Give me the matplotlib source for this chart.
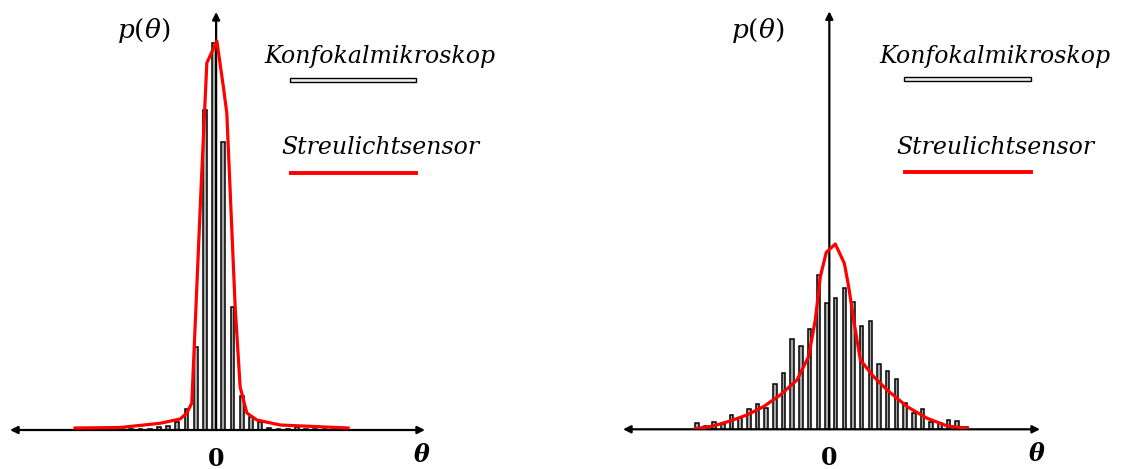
import numpy as np
import matplotlib.pyplot as plt
from matplotlib.patches import Rectangle
from matplotlib.lines import Line2D

plt.rcParams["mathtext.fontset"] = "dejavuserif"

# histogram bins (bin index relative to theta = 0) and counts
left_bins = np.arange(-13, 14) - 0.22
left_counts = [1, 1, 1, 1, 1, 1.5, 1.5, 3, 4, 8, 21, 83, 320, 387, 288,
               123, 34, 13, 8, 2, 1.5, 1.5, 3, 1.5, 1.5, 1.5, 1]
right_bins = np.arange(-15, 17) - 0.27
right_counts = [6, 3.7, 7.6, 5.3, 14.3, 11, 20, 25, 21.6, 45, 56.6, 90.3,
                83, 100, 154.3, 126, 131.6, 141.6, 127.6, 103.6, 108.6, 65,
                58.3, 50.6, 26, 16.6, 20, 7.6, 6, 9.3, 8.6, 2.6]

# scattered-light sensor curves
left_sensor_theta = [-15.33, -10.43, -6.09, -3.91, -3.18, -2.64, -1.63, -1.01,
                     0.08, 0.79, 1.16, 2.07, 2.61, 3.34, 4.42, 6.96, 14.35]
left_sensor_p = [2, 2.5, 6.7, 11, 17, 27, 243, 367, 389, 343, 317, 123, 43,
                 17, 10, 5, 2]
right_sensor_theta = [-15.49, -13.38, -11.45, -9.51, -7.60, -5.66, -3.73,
                      -2.39, -1.62, -1.04, -0.35, 0.69, 1.73, 2.23, 2.81,
                      3.58, 5.12, 6.67, 8.98, 11.29, 13.61, 15.92]
right_sensor_p = [0.5, 3.3, 8.3, 14.3, 22.6, 34.3, 49.3, 72.6, 109.3, 152.6,
                  177, 185.3, 166, 142.6, 109.3, 69.3, 52.6, 39.3, 22.6, 11,
                  3.3, 1]

W, H = 1125, 469
fig = plt.figure(figsize=(W / 100, H / 100), dpi=100)

panels = [
    ((10, 430, 415), (-22.4, 22.7), left_bins, left_counts,
     left_sensor_theta, left_sensor_p),
    ((623, 429.3, 417), (-23.8, 24.3), right_bins, right_counts,
     right_sensor_theta, right_sensor_p),
]

TEXT_FONT = dict(family="DejaVu Serif", style="italic", fontsize=17)

for (px, py, pw), xlim, bins, counts, s_theta, s_p in panels:
    ax = fig.add_axes([px / W, (H - py) / H, pw / W, 418 / H])
    ax.set_xlim(*xlim)
    ax.set_ylim(0, 418)
    for sp in ax.spines.values():
        sp.set_visible(False)
    ax.set_yticks([])
    ax.set_xticks([0], ["0"])
    ax.tick_params(axis="x", length=0, pad=12)
    for t in ax.get_xticklabels():
        t.set_fontfamily("DejaVu Serif")
        t.set_fontweight("bold")
        t.set_fontsize(17)

    ax.bar(bins, counts, width=0.42, color="#a9a9a9", edgecolor="black",
           linewidth=1.1, zorder=2)
    ax.plot(s_theta, s_p, color="#ff0000", linewidth=2.3, zorder=4,
            solid_joinstyle="round")

    # coordinate axes as arrows
    ax.annotate("", xy=(xlim[1], 0), xytext=(xlim[0], 0),
                arrowprops=dict(arrowstyle="<|-|>", color="black", lw=1.6,
                                mutation_scale=11, shrinkA=0, shrinkB=0),
                annotation_clip=False, zorder=3)
    ax.annotate("", xy=(0, 418), xytext=(0, 0),
                arrowprops=dict(arrowstyle="-|>", color="black", lw=1.6,
                                mutation_scale=11, shrinkA=0, shrinkB=0),
                annotation_clip=False, zorder=3)

    ax.text(0.322, 0.955, r"$p(\theta)$", transform=ax.transAxes,
            fontsize=19, ha="center", va="center")
    ax.text(0.993, -0.06, "θ", transform=ax.transAxes, ha="center",
            va="center", family="DejaVu Serif", style="italic",
            weight="bold", fontsize=17)

    # legend entries
    ax.text(0.892, 0.893, "Konfokalmikroskop", transform=ax.transAxes,
            ha="center", va="center", clip_on=False, **TEXT_FONT)
    ax.add_patch(Rectangle((0.675, 0.833), 0.303, 0.0096,
                           transform=ax.transAxes, facecolor="#eeeeee",
                           edgecolor="black", linewidth=1.0, clip_on=False))
    ax.text(0.892, 0.675, "Streulichtsensor", transform=ax.transAxes,
            ha="center", va="center", clip_on=False, **TEXT_FONT)
    ax.add_line(Line2D([0.677, 0.978], [0.615, 0.615],
                       transform=ax.transAxes, color="#ff0000",
                       linewidth=2.8, clip_on=False))

fig.savefig("out.png", dpi=100)
